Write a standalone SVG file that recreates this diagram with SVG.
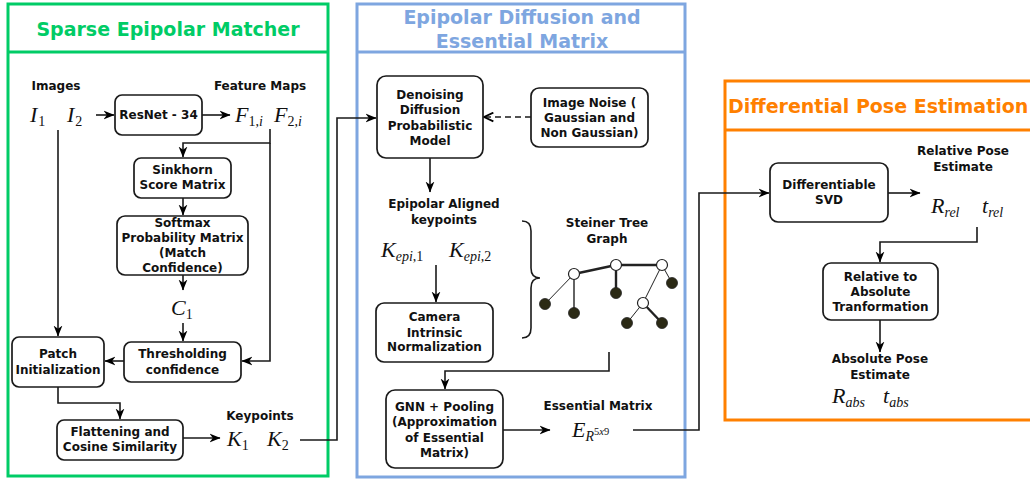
<svg xmlns="http://www.w3.org/2000/svg" width="1030" height="482" viewBox="0 0 1030 482">
<defs>
<marker id="arr" viewBox="0 0 10 10" refX="9.5" refY="5" markerWidth="11" markerHeight="11" orient="auto" markerUnits="userSpaceOnUse">
<path d="M0,1 L10,5 L0,9 L3,5 z" fill="#000"/>
</marker>
<marker id="open" viewBox="0 0 10 10" refX="9.5" refY="5" markerWidth="11" markerHeight="11" orient="auto" markerUnits="userSpaceOnUse">
<path d="M1,1 L9.5,5 L1,9" fill="none" stroke="#000" stroke-width="1.6"/>
</marker>
</defs>
<style>
.panel{fill:#fff;stroke-width:3}
.box{fill:#fff;stroke:#1a1a1a;stroke-width:1.7}
.lbl{font-family:"DejaVu Sans",Verdana,sans-serif;font-weight:bold;font-size:12px;fill:#111;text-anchor:middle}
.ttl{font-family:"DejaVu Sans",Verdana,sans-serif;font-weight:bold;font-size:19px}
.m{font-family:"Liberation Serif","DejaVu Serif",serif;font-style:italic;font-size:22px;fill:#111}
.s{font-size:14px;font-style:normal}
.si{font-size:14px;font-style:italic}
.sup{font-size:10.5px}
.c{fill:none;stroke:#1a1a1a;stroke-width:1.6}
.tn{stroke:#222;fill:none}
</style>
<rect width="1030" height="482" fill="#fff"/>

<g id="panel-sparse">
<rect class="panel" x="8" y="4" width="320" height="472" stroke="#00CC66"/>
<line x1="8" y1="52" x2="328" y2="52" stroke="#00CC66" stroke-width="3"/>
<text class="ttl" x="168" y="36" fill="#00CC66" text-anchor="middle">Sparse Epipolar Matcher</text>
</g>
<g id="panel-diffusion">
<rect class="panel" x="357" y="4" width="328" height="473" stroke="#7EA6E0"/>
<line x1="357" y1="52" x2="685" y2="52" stroke="#7EA6E0" stroke-width="3"/>
<text class="ttl" x="522" y="24" fill="#7EA6E0" text-anchor="middle">Epipolar Diffusion and</text>
<text class="ttl" x="522" y="48" fill="#7EA6E0" text-anchor="middle">Essential Matrix</text>
</g>
<g id="panel-pose">
<rect class="panel" x="725" y="81" width="320" height="339" stroke="#FF8000"/>
<line x1="725" y1="130" x2="1045" y2="130" stroke="#FF8000" stroke-width="3"/>
<text class="ttl" x="728" y="113" fill="#FF8000">Differential Pose Estimation</text>
</g>

<g id="connectors">
<path class="c" d="M96,115 H114" marker-end="url(#arr)"/>
<path class="c" d="M202,115 H230" marker-end="url(#arr)"/>
<path class="c" d="M270,129 V143 H183 V157" marker-end="url(#arr)"/>
<path class="c" d="M270,143 V361 H242" marker-end="url(#arr)"/>
<path class="c" d="M183,198 V215" marker-end="url(#arr)"/>
<path class="c" d="M183,275 V290" marker-end="url(#arr)"/>
<path class="c" d="M183,323 V341" marker-end="url(#arr)"/>
<path class="c" d="M124,361 H105" marker-end="url(#arr)"/>
<path class="c" d="M58,130 V336" marker-end="url(#arr)"/>
<path class="c" d="M58,387 V403 H120 V419" marker-end="url(#arr)"/>
<path class="c" d="M183,438 H220" marker-end="url(#arr)"/>
<path class="c" d="M300,440 H337 V118 H376" marker-end="url(#arr)"/>
<path class="c" d="M531,117 H484" stroke-dasharray="6,4" marker-end="url(#open)"/>
<path class="c" d="M430,158 V192" marker-end="url(#arr)"/>
<path class="c" d="M436,265 V302" marker-end="url(#arr)"/>
<path class="c" d="M609,352 V371 H445 V389" marker-end="url(#arr)"/>
<path class="c" d="M503,430 H550" marker-end="url(#arr)"/>
<path class="c" d="M633,430 H699 V193 H769" marker-end="url(#arr)"/>
<path class="c" d="M888,193 H920" marker-end="url(#arr)"/>
<path class="c" d="M977,227 V242 H880 V262" marker-end="url(#arr)"/>
<path class="c" d="M880,320 V352" marker-end="url(#arr)"/>
</g>

<g id="images">
<text class="lbl" x="56" y="90">Images</text>
<text class="m" x="30" y="122">I<tspan class="s" dx="1" dy="4">1</tspan></text>
<text class="m" x="67" y="122">I<tspan class="s" dx="1" dy="4">2</tspan></text>
</g>
<g id="resnet">
<rect class="box" x="115" y="95" width="87" height="40" rx="7"/>
<text class="lbl" x="158.5" y="119">ResNet - 34</text>
</g>
<g id="feature-maps">
<text class="lbl" x="260" y="90">Feature Maps</text>
<text class="m" x="235" y="122">F<tspan class="s" dy="4">1,</tspan><tspan class="si">i</tspan></text>
<text class="m" x="274" y="122">F<tspan class="s" dy="4">2,</tspan><tspan class="si">i</tspan></text>
</g>
<g id="sinkhorn">
<rect class="box" x="134" y="158" width="97" height="40" rx="7"/>
<text class="lbl" x="182.5" y="174">Sinkhorn</text>
<text class="lbl" x="182.5" y="189">Score Matrix</text>
</g>
<g id="softmax">
<rect class="box" x="117" y="216" width="131" height="59" rx="8"/>
<text class="lbl" x="182.5" y="227">Softmax</text>
<text class="lbl" x="182.5" y="242">Probability Matrix</text>
<text class="lbl" x="182.5" y="257">(Match</text>
<text class="lbl" x="182.5" y="272">Confidence)</text>
</g>
<g id="c1">
<text class="m" x="171" y="315">C<tspan class="s" dy="4">1</tspan></text>
</g>
<g id="thresholding">
<rect class="box" x="124" y="342" width="117" height="40" rx="7"/>
<text class="lbl" x="182.5" y="358">Thresholding</text>
<text class="lbl" x="182.5" y="374">confidence</text>
</g>
<g id="patch">
<rect class="box" x="12" y="337" width="92" height="50" rx="7"/>
<text class="lbl" x="58" y="358">Patch</text>
<text class="lbl" x="58" y="374">Initialization</text>
</g>
<g id="flattening">
<rect class="box" x="57" y="420" width="126" height="40" rx="7"/>
<text class="lbl" x="120" y="436">Flattening and</text>
<text class="lbl" x="120" y="451">Cosine Similarity</text>
</g>
<g id="keypoints">
<text class="lbl" x="260" y="420">Keypoints</text>
<text class="m" x="227" y="446">K<tspan class="s" dy="4">1</tspan></text>
<text class="m" x="267" y="446">K<tspan class="s" dy="4">2</tspan></text>
</g>

<g id="ddpm">
<rect class="box" x="377" y="76" width="106" height="82" rx="9"/>
<text class="lbl" x="430" y="99">Denoising</text>
<text class="lbl" x="430" y="114">Diffusion</text>
<text class="lbl" x="430" y="130">Probabilistic</text>
<text class="lbl" x="430" y="145">Model</text>
</g>
<g id="noise">
<rect class="box" x="531" y="88" width="117" height="59" rx="8"/>
<text class="lbl" x="589.5" y="107">Image Noise (</text>
<text class="lbl" x="589.5" y="122">Gaussian and</text>
<text class="lbl" x="589.5" y="137">Non Gaussian)</text>
</g>
<g id="epi-keypoints">
<text class="lbl" x="444" y="208">Epipolar Aligned</text>
<text class="lbl" x="444" y="224">keypoints</text>
<text class="m" x="381" y="257">K<tspan class="si" dy="4">epi</tspan><tspan class="s">,1</tspan></text>
<text class="m" x="449" y="257">K<tspan class="si" dy="4">epi</tspan><tspan class="s">,2</tspan></text>
</g>
<g id="camera">
<rect class="box" x="376" y="303" width="117" height="59" rx="8"/>
<text class="lbl" x="434.5" y="321">Camera</text>
<text class="lbl" x="434.5" y="337">Intrinsic</text>
<text class="lbl" x="434.5" y="351">Normalization</text>
</g>
<g id="steiner-tree">
<path d="M522,221 Q531,221 531,231 L531,268 Q531,278 540,278 Q531,278 531,288 L531,328 Q531,338 522,338" fill="none" stroke="#1a1a1a" stroke-width="1.6"/>
<text class="lbl" x="607" y="227">Steiner Tree</text>
<text class="lbl" x="607" y="243">Graph</text>
<line class="tn" x1="574" y1="274" x2="616" y2="265" stroke-width="2.4"/>
<line class="tn" x1="616" y1="265" x2="662" y2="265" stroke-width="2.4"/>
<line class="tn" x1="574" y1="274" x2="545" y2="304" stroke-width="1"/>
<line class="tn" x1="574" y1="274" x2="574" y2="313" stroke-width="1.4"/>
<line class="tn" x1="616" y1="265" x2="616" y2="293" stroke-width="2.4"/>
<line class="tn" x1="662" y1="265" x2="672" y2="283" stroke-width="1"/>
<line class="tn" x1="662" y1="265" x2="643" y2="303" stroke-width="1"/>
<line class="tn" x1="643" y1="303" x2="627" y2="323" stroke-width="1"/>
<line class="tn" x1="643" y1="303" x2="662" y2="323" stroke-width="2.4"/>
<g fill="#fff" stroke="#222" stroke-width="1.2">
<circle cx="574" cy="274" r="5.5"/>
<circle cx="616" cy="265" r="5.5"/>
<circle cx="662" cy="265" r="5.5"/>
<circle cx="643" cy="303" r="5.5"/>
</g>
<g fill="#2b2a15" stroke="#222" stroke-width="0.8">
<circle cx="545" cy="304" r="5.5"/>
<circle cx="574" cy="313" r="5.5"/>
<circle cx="616" cy="293" r="5.5"/>
<circle cx="672" cy="283" r="5.5"/>
<circle cx="627" cy="323" r="5.5"/>
<circle cx="662" cy="323" r="5.5"/>
</g>
</g>
<g id="gnn">
<rect class="box" x="386" y="390" width="117" height="78" rx="9"/>
<text class="lbl" x="444.5" y="411">GNN + Pooling</text>
<text class="lbl" x="444.5" y="426">(Approximation</text>
<text class="lbl" x="444.5" y="442">of Essential</text>
<text class="lbl" x="444.5" y="457">Matrix)</text>
</g>
<g id="essential-matrix">
<text class="lbl" x="598" y="410">Essential Matrix</text>
<text class="m" x="572" y="437">E<tspan class="si" dy="4">R</tspan><tspan class="sup" style="font-style:normal" dy="-6">5</tspan><tspan class="sup">x</tspan><tspan class="sup" style="font-style:normal">9</tspan></text>
</g>

<g id="svd">
<rect class="box" x="770" y="163" width="118" height="59" rx="8"/>
<text class="lbl" x="829" y="189">Differentiable</text>
<text class="lbl" x="829" y="204">SVD</text>
</g>
<g id="relative-pose">
<text class="lbl" x="963" y="155">Relative Pose</text>
<text class="lbl" x="963" y="171">Estimate</text>
<text class="m" x="931" y="213">R<tspan class="si" dy="4">rel</tspan></text>
<text class="m" x="982" y="213">t<tspan class="si" dy="4">rel</tspan></text>
</g>
<g id="rel-to-abs">
<rect class="box" x="823" y="263" width="115" height="57" rx="8"/>
<text class="lbl" x="880.5" y="281">Relative to</text>
<text class="lbl" x="880.5" y="296">Absolute</text>
<text class="lbl" x="880.5" y="311">Tranformation</text>
</g>
<g id="absolute-pose">
<text class="lbl" x="880" y="363">Absolute Pose</text>
<text class="lbl" x="880" y="379">Estimate</text>
<text class="m" x="832" y="403">R<tspan class="si" dy="4">abs</tspan></text>
<text class="m" x="883" y="403">t<tspan class="si" dy="4">abs</tspan></text>
</g>
</svg>
